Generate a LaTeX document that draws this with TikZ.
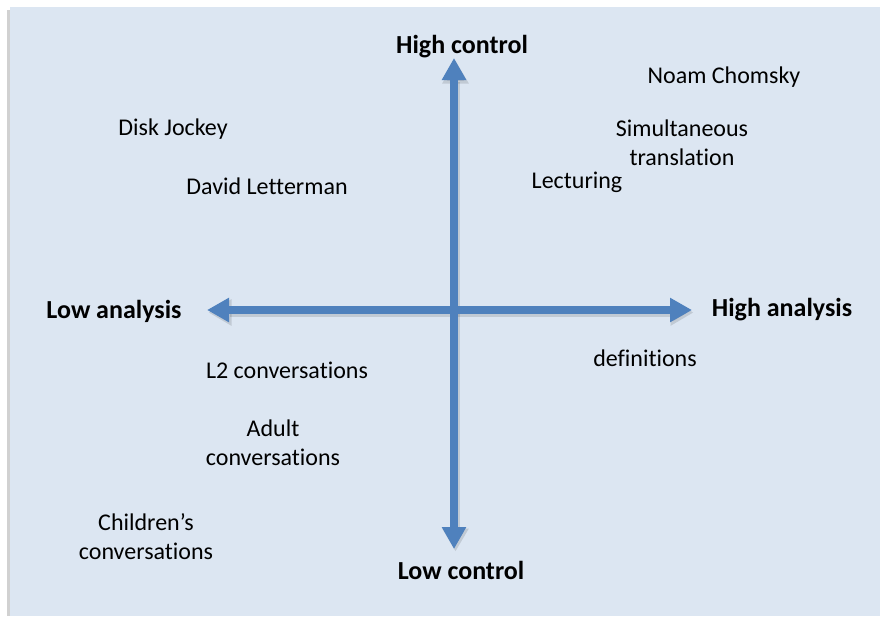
\documentclass[tikz,border=0pt]{standalone}
\usepackage{fontspec}
\setmainfont{Carlito}[Ligatures=NoCommon]
\usetikzlibrary{arrows.meta}
\usetikzlibrary{positioning}
\definecolor{panel}{HTML}{DCE6F2}
\definecolor{axisblue}{HTML}{4F81BD}
\tikzset{item node/.style={shape=rectangle, inner sep=0pt,
    align=center, font=\fontsize{24pt}{29pt}\selectfont},
  axis label/.style={item node, font=\fontsize{26pt}{31pt}\selectfont\bfseries},
  axis arrow/.style={draw=axisblue, line width=8pt,
    {Triangle[width=23pt,length=22pt]}-{Triangle[width=23pt,length=22pt]}},
  axis shadow/.style={draw=black, opacity=0.12, line width=9pt,
    {Triangle[width=25pt,length=23pt]}-{Triangle[width=25pt,length=23pt]}}}

\begin{document}
\begin{tikzpicture}[x=1pt,y=-1pt]
    \useasboundingbox (0,0) rectangle (880,616);
    \fill[black!18] (7,10) rectangle (880,616);
    \fill[panel] (10,7) rectangle (880,616);

    \coordinate (top) at (454,58);
    \coordinate (bottom) at (454,549);
    \coordinate (left) at (207,310);
    \coordinate (right) at (692,310);

    \node[axis label] (hc) at (462,47) {High control};
    \node[axis label] (lc) at (461,570) {Low control};
    \node[axis label] (la) at (114,311) {Low analysis};
    \node[axis label] (ha) at (782,310) {High analysis};

    \node[item node] (noam) at (724,77) {Noam Chomsky};
    \node[item node] (simul) at (682,143) {Simultaneous\\translation};
    \node[item node] (lect) at (577,182) {Lecturing};
    \node[item node] (dj) at (173,129) {Disk Jockey};
    \node[item node] (dl) at (267,186) {David Letterman};
    \node[item node] (defs) at (645,358) {definitions};
    \node[item node] (l2) at (287,370) {L2 conversations};
    \node[item node] (adult) at (273,443) {Adult\\conversations};
    \node[item node] (child) at (146,537) {Children’s\\conversations};

    % drop shadows first, then the axes
    \path[axis shadow] ([shift={(1.5,2.5)}]bottom) -- ([shift={(1.5,2.5)}]top);
    \path[axis shadow] ([shift={(1.5,2.5)}]left) -- ([shift={(1.5,2.5)}]right);
    \path[axis arrow] (bottom) -- (top);
    \path[axis arrow] (left) -- (right);
\end{tikzpicture}
\end{document}
